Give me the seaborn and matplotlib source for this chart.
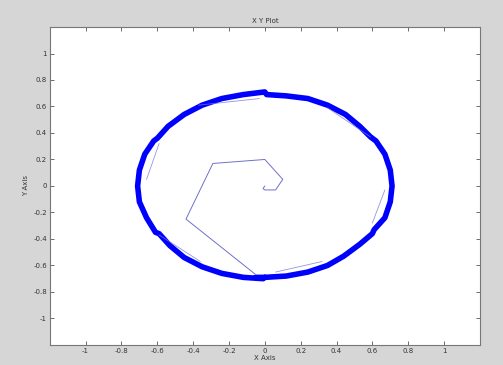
import numpy as np
import pandas as pd
import seaborn as sns
import matplotlib
matplotlib.use('Agg')
import matplotlib.pyplot as plt

sns.set_style('white')
plt.rcParams['font.family'] = ['DejaVu Sans']

###-----Data-----###
# spiral out from the centre to the circle
spiral_x = [0.00, -0.01, 0.00, 0.06, 0.10, 0.00, -0.29, -0.44, -0.05]
spiral_y = [0.00, -0.02, -0.03, -0.03, 0.05, 0.20, 0.17, -0.25, -0.67]

# the circle lap, six arcs with small steps where they meet
circle_x = [-0.05, 0.00, 0.12, 0.24, 0.35, 0.44, 0.53, 0.60,
            0.61, 0.67, 0.70, 0.71, 0.70, 0.67, 0.62,
            0.59, 0.53, 0.45, 0.35, 0.24, 0.12, 0.01,
            0.00, -0.12, -0.24, -0.35, -0.45, -0.54, -0.60,
            -0.62, -0.67, -0.70, -0.71, -0.70, -0.66, -0.61,
            -0.59, -0.53, -0.45, -0.35, -0.24, -0.12, -0.01, 0.00]
circle_y = [-0.69, -0.69, -0.68, -0.65, -0.60, -0.53, -0.44, -0.36,
            -0.33, -0.24, -0.12, 0.00, 0.12, 0.24, 0.34,
            0.37, 0.45, 0.54, 0.61, 0.66, 0.68, 0.69,
            0.71, 0.69, 0.66, 0.61, 0.54, 0.45, 0.36,
            0.34, 0.24, 0.12, 0.00, -0.12, -0.24, -0.35,
            -0.36, -0.45, -0.54, -0.61, -0.66, -0.69, -0.70, -0.69]

# faint chords cutting across the arcs
chord_x0 = [-0.59, -0.59, -0.37, 0.35, 0.67, 0.06]
chord_y0 = [0.32, -0.37, 0.61, 0.59, -0.03, -0.65]
chord_x1 = [-0.66, -0.36, -0.03, 0.59, 0.60, 0.32]
chord_y1 = [0.05, -0.57, 0.66, 0.37, -0.28, -0.57]

x_ticks = [-1, -0.8, -0.6, -0.4, -0.2, 0, 0.2, 0.4, 0.6, 0.8, 1]
y_ticks = [-1, -0.8, -0.6, -0.4, -0.2, 0, 0.2, 0.4, 0.6, 0.8, 1]
tick_labels = ['-1', '-0.8', '-0.6', '-0.4', '-0.2', '0', '0.2', '0.4', '0.6', '0.8', '1']

df_spiral = pd.DataFrame({'x': spiral_x, 'y': spiral_y})
df_circle = pd.DataFrame({'x': circle_x, 'y': circle_y})

###-----Plot-----###
fig = plt.figure(figsize=(5.03, 3.65), dpi=100, facecolor='#d6d6d6')
ax = fig.add_axes([0.099, 0.055, 0.855, 0.871])
ax.set_facecolor('white')

sns.lineplot(data=df_circle, x='x', y='y', sort=False, estimator=None,
             color='#0000ff', lw=4, solid_joinstyle='round',
             solid_capstyle='round', ax=ax)

for i in range(len(chord_x0)):
    ax.plot([chord_x0[i], chord_x1[i]], [chord_y0[i], chord_y1[i]],
            color='#7a7ad8', lw=0.6, alpha=0.8)

sns.lineplot(data=df_spiral, x='x', y='y', sort=False, estimator=None,
             color='#7070c8', lw=0.7, ax=ax)

ax.set_xlim(-1.2, 1.2)
ax.set_ylim(-1.2, 1.2)
ax.set_xticks(x_ticks)
ax.set_xticklabels(tick_labels)
ax.set_yticks(y_ticks)
ax.set_yticklabels(tick_labels)
ax.tick_params(direction='in', length=3, width=0.6, colors='#555555',
               labelcolor='#333333', labelsize=5, top=True, right=True,
               bottom=True, left=True, pad=2)
for s in ax.spines.values():
    s.set_color('#777777')
    s.set_linewidth(0.8)

ax.set_title('X Y Plot', fontsize=5, color='#333333', pad=3)
ax.set_xlabel('X Axis', fontsize=5, color='#333333', labelpad=1)
ax.set_ylabel('Y Axis', fontsize=5, color='#333333', labelpad=3)

fig.savefig('out.png', dpi=100, facecolor=fig.get_facecolor())
